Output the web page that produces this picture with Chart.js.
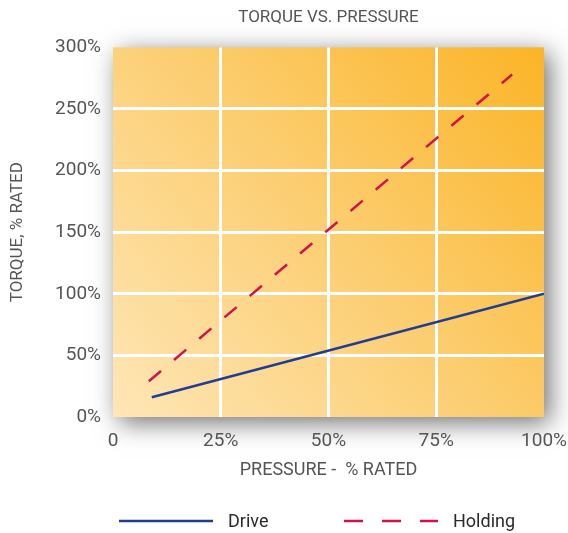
<!DOCTYPE html>
<html>
<head>
<meta charset="utf-8">
<title>Torque vs. Pressure</title>
<script src="https://cdn.jsdelivr.net/npm/chart.js@4.4.0/dist/chart.umd.min.js"></script>
<style>
    html, body { margin: 0; padding: 0; background: #ffffff; }
    #wrap { width: 568px; height: 533px; }
</style>
</head>
<body>
<div id="wrap"><canvas id="torqueChart" width="568" height="533"></canvas></div>
<script>
// values (x = % rated pressure, y = % rated torque)
const drivePressure = [9, 100];
const driveTorque = [16, 100];
const holdingPressure = [8.3, 92.6];
const holdingTorque = [29, 278];

const pressureRange = [0, 100];
const pressureStep = 25;
const torqueRange = [0, 300];
const torqueStep = 50;

const seriesNames = ['Drive', 'Holding'];

const FONT = "Roboto, 'Liberation Sans', sans-serif";

function toPoints(xs, ys) {
    return xs.map((x, i) => ({ x: x, y: ys[i] }));
}

// gradient plot area with a soft drop shadow
const plotBackground = {
    id: 'plotBackground',
    beforeDraw(chart) {
        const { ctx, chartArea: a } = chart;
        const g = ctx.createLinearGradient(a.left, a.bottom, a.right, a.top);
        g.addColorStop(0, '#fee6b6');
        g.addColorStop(0.5, '#fcce72');
        g.addColorStop(1, '#fbb426');
        ctx.save();
        ctx.shadowColor = 'rgba(0, 0, 0, 0.55)';
        ctx.shadowBlur = 24;
        ctx.shadowOffsetX = 6;
        ctx.shadowOffsetY = 6;
        ctx.fillStyle = g;
        ctx.fillRect(a.left, a.top, a.width, a.height);
        ctx.restore();
    }
};

// legend under the axis title, line samples taken from the datasets
const bottomLegend = {
    id: 'bottomLegend',
    afterDraw(chart) {
        const ctx = chart.ctx;
        const sampleX = [119, 344];
        const sampleW = 94;
        const y = 521;
        ctx.save();
        chart.data.datasets.forEach((ds, i) => {
            const x = sampleX[i];
            ctx.beginPath();
            ctx.strokeStyle = ds.borderColor;
            ctx.lineWidth = ds.borderWidth;
            ctx.setLineDash(ds.borderDash ? [19, 19] : []);
            ctx.moveTo(x, y);
            ctx.lineTo(x + sampleW, y);
            ctx.stroke();
            ctx.setLineDash([]);
            ctx.fillStyle = '#2a2a2a';
            ctx.font = '18px ' + FONT;
            ctx.textBaseline = 'middle';
            ctx.textAlign = 'left';
            ctx.fillText(ds.label, x + sampleW + 15, y + 1);
        });
        ctx.restore();
    }
};

function innerGrid(ctx, max) {
    const v = ctx.tick ? ctx.tick.value : 0;
    return (v > 0 && v < max) ? '#ffffff' : 'rgba(0,0,0,0)';
}

const canvas = document.getElementById('torqueChart');

const torqueChart = new Chart(canvas, {
    type: 'line',
    data: {
        datasets: [
            {
                label: seriesNames[0],
                data: toPoints(drivePressure, driveTorque),
                borderColor: '#1f3d94',
                borderWidth: 2.5,
                pointRadius: 0,
                tension: 0
            },
            {
                label: seriesNames[1],
                data: toPoints(holdingPressure, holdingTorque),
                borderColor: '#d4124a',
                borderWidth: 2.5,
                borderDash: [16, 17],
                pointRadius: 0,
                tension: 0
            }
        ]
    },
    options: {
        responsive: false,
        animation: false,
        devicePixelRatio: 1,
        layout: {
            padding: { top: 0, left: 0, right: 0, bottom: 48 }
        },
        plugins: {
            legend: { display: false },
            tooltip: { enabled: false },
            title: {
                display: true,
                fullSize: false,
                text: 'TORQUE VS. PRESSURE',
                color: '#555555',
                font: { family: FONT, size: 17, weight: 'normal' },
                padding: { top: 8, bottom: 19 }
            }
        },
        scales: {
            x: {
                type: 'linear',
                min: pressureRange[0],
                max: pressureRange[1],
                border: { display: false },
                grid: {
                    color: (ctx) => innerGrid(ctx, pressureRange[1]),
                    lineWidth: 3,
                    drawTicks: false
                },
                ticks: {
                    stepSize: pressureStep,
                    padding: 13,
                    color: '#555555',
                    font: { family: FONT, size: 19 },
                    callback: (v) => v === 0 ? '0' : v + '%'
                },
                title: {
                    display: true,
                    text: 'PRESSURE -  % RATED',
                    color: '#555555',
                    font: { family: FONT, size: 18 },
                    padding: { top: 0, bottom: 4 }
                },
                afterFit: (s) => {
                    s.height = 68;
                    s.paddingLeft = 0;
                    s.paddingRight = 24;
                }
            },
            y: {
                min: torqueRange[0],
                max: torqueRange[1],
                border: { display: false },
                grid: {
                    color: (ctx) => innerGrid(ctx, torqueRange[1]),
                    lineWidth: 3,
                    drawTicks: false
                },
                ticks: {
                    stepSize: torqueStep,
                    padding: 12,
                    color: '#555555',
                    font: { family: FONT, size: 19 },
                    callback: (v) => v + '%'
                },
                title: {
                    display: true,
                    text: 'TORQUE, % RATED',
                    color: '#555555',
                    font: { family: FONT, size: 17 },
                    padding: { top: 8, bottom: 0 }
                },
                afterFit: (s) => { s.width = 113; }
            }
        }
    },
    plugins: [plotBackground, bottomLegend]
});
</script>
</body>
</html>
